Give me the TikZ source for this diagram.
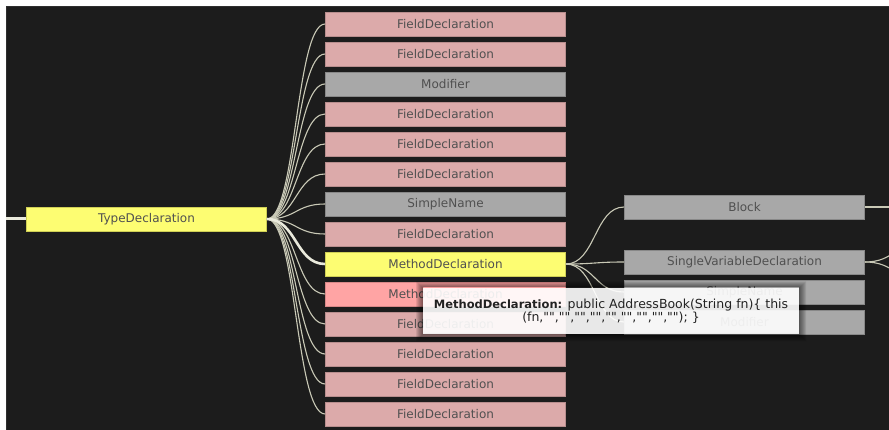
\documentclass[tikz,border=0pt]{standalone}
\usepackage{fontspec}
\newfontfamily\labelfont{DejaVu Sans}
\usetikzlibrary{calc}

\definecolor{canvas}{HTML}{1C1C1C}
\definecolor{canvasedge}{HTML}{2E2E2E}
\definecolor{fieldpink}{HTML}{DCAAAA}
\definecolor{fieldline}{HTML}{B88E8E}
\definecolor{grayfill}{HTML}{A8A8A8}
\definecolor{grayline}{HTML}{888888}
\definecolor{hiyellow}{HTML}{FDFD72}
\definecolor{yellowline}{HTML}{CFCF55}
\definecolor{hoverpink}{HTML}{FFA4A4}
\definecolor{hoverline}{HTML}{D88888}
\definecolor{boxtext}{HTML}{505050}
\definecolor{linkcol}{HTML}{C9C9B6}
\definecolor{mainlinkcol}{HTML}{EAEADC}
\definecolor{tiptext}{HTML}{222222}

\begin{document}
\begin{tikzpicture}[x=1pt,y=-1pt,
  box/.style={minimum width=240pt, minimum height=24pt, inner sep=0pt,
    line width=0.8pt, text=boxtext, font=\labelfont\fontsize{12}{14}\selectfont},
  field/.style={box, fill=fieldpink, draw=fieldline},
  plain/.style={box, fill=grayfill, draw=grayline},
  focus/.style={box, fill=hiyellow, draw=yellowline},
  hover/.style={box, fill=hoverpink, draw=hoverline},
  link/.style={draw=linkcol, line width=1.1pt},
  mainlink/.style={draw=mainlinkcol, line width=2.6pt},
  diag/.style={to path={.. controls ($(\tikztostart)+(29.5pt,0)$) and ($(\tikztotarget)-(29.5pt,0)$) .. (\tikztotarget)}},
  tipbox/.style={minimum width=376pt, minimum height=46pt, inner sep=0pt,
    fill=white, fill opacity=0.9, text opacity=1, text=tiptext, align=center,
    font=\labelfont\fontsize{12.5}{13}\selectfont}
]
\useasboundingbox (0,0) rectangle (889,430);
\fill[white] (0,0) rectangle (889,430);
\fill[canvas] (6,6) rectangle (889,430);
\draw[canvasedge, line width=1pt] (6.5,430) -- (6.5,6.5) -- (889,6.5);

\begin{scope}
\clip (6,6) rectangle (889,430);

% root of the visible subtree
\node[focus] (td) at (146.5,219) {TypeDeclaration};
\coordinate (parent) at (-20,219);

% members of the type
\node[field] (m1)  at (445.5,24)  {FieldDeclaration};
\node[field] (m2)  at (445.5,54)  {FieldDeclaration};
\node[plain] (m3)  at (445.5,84)  {Modifier};
\node[field] (m4)  at (445.5,114) {FieldDeclaration};
\node[field] (m5)  at (445.5,144) {FieldDeclaration};
\node[field] (m6)  at (445.5,174) {FieldDeclaration};
\node[plain] (m7)  at (445.5,204) {SimpleName};
\node[field] (m8)  at (445.5,234) {FieldDeclaration};
\node[focus] (m9)  at (445.5,264) {MethodDeclaration};
\node[hover] (m10) at (445.5,294) {MethodDeclaration};
\node[field] (m11) at (445.5,324) {FieldDeclaration};
\node[field] (m12) at (445.5,354) {FieldDeclaration};
\node[field] (m13) at (445.5,384) {FieldDeclaration};
\node[field] (m14) at (445.5,414) {FieldDeclaration};

% children of the selected method
\node[plain] (r1) at (744.5,207) {Block};
\node[plain] (r2) at (744.5,262) {SingleVariableDeclaration};
\node[plain] (r3) at (744.5,292) {SimpleName};
\node[plain] (r4) at (744.5,322) {Modifier};

% grandchildren beyond the right edge
\coordinate (b1) at (924,207);
\coordinate (s1) at (924,243);
\coordinate (s2) at (924,280);

% connectors
\draw[mainlink, line width=3pt] (parent) -- (td.west);
\foreach \i in {1,...,8,10,11,12,13,14}
  \draw[link] (td.east) to[diag] (m\i.west);
\draw[mainlink] (td.east) to[diag] (m9.west);
\foreach \j in {1,...,4}
  \draw[link] (m9.east) to[diag] (r\j.west);
\draw[link] (r1.east) -- (b1);
\draw[link] (r2.east) to[diag] (s1);
\draw[link] (r2.east) to[diag] (s2);

% hover tooltip with a soft shadow
\coordinate (tipA) at (423,287);
\coordinate (tipB) at (799,333);
\foreach \k in {1,...,7}
  \fill[black, opacity=0.085, even odd rule]
    ($(tipA)+(-\k,-\k+1.5)$) rectangle ($(tipB)+(\k,\k+1.5)$)
    (tipA) rectangle (tipB);
\node[tipbox] (tip) at ($(tipA)!0.5!(tipB)+(0,1.5)$)
  {{\bfseries\fontsize{11.5}{13}\selectfont MethodDeclaration:} public AddressBook(String fn)\{ this\\
   (fn,"","","","","","","","",""); \}};
\end{scope}
\end{tikzpicture}
\end{document}
